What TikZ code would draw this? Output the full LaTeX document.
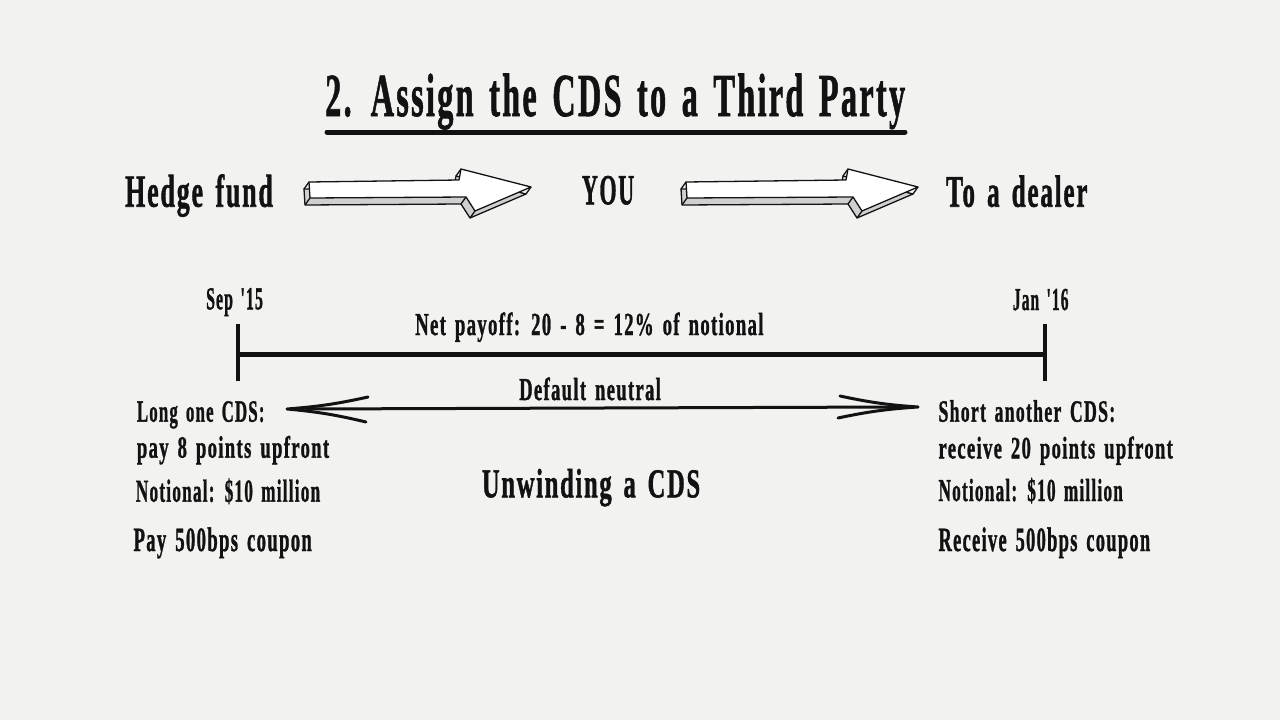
\documentclass[tikz,border=0pt]{standalone}
\usepackage{fontspec}
\setmainfont{Liberation Serif}
\newfontfamily\cdsfont{Liberation Serif}[LetterSpace=7,WordSpace=1.5,BoldFeatures={FakeBold=1.4}]
\usepackage{graphicx}
\definecolor{paper}{RGB}{242,242,240}
\definecolor{ink}{RGB}{18,18,18}
\definecolor{side}{RGB}{208,208,208}
\newcommand\fitt[3]{\resizebox{#1pt}{\height}{\fontsize{#2}{#2}\cdsfont\bfseries #3}}
\tikzset{
  lbl/.style={inner sep=0pt, anchor=base west, text=ink},
  edge3d/.style={draw=ink, line width=1.3pt, line join=round},
  blockarrow/.pic={
    \path[edge3d, fill=side, shift={(-5,7)}] (0,0) -- (#1,-2) -- (#1+2,-13) -- (#1+72,5) -- (#1+16,29) -- (#1+7,15) -- (1,16) -- cycle;
    \draw[edge3d] (0,0) -- (-5,7) (1,16) -- (-4,23) (#1+7,15) -- (#1+2,22)
      (#1+16,29) -- (#1+11,36) (#1+72,5) -- (#1+67,12) (#1+2,-13) -- (#1-3,-6);
    \path[edge3d, fill=white] (0,0) -- (#1,-2) -- (#1+2,-13) -- (#1+72,5) -- (#1+16,29) -- (#1+7,15) -- (1,16) -- cycle;
  },
  timeline/.style={draw=ink, line width=5pt, line cap=round},
  tick/.style={draw=ink, line width=3.5pt},
  sketch/.style={draw=ink, line width=3pt, line cap=round, line join=round}
}
\begin{document}
\begin{tikzpicture}[x=1pt,y=-1pt]
\fill[paper] (0,0) rectangle (1280,720);
\useasboundingbox (0,0) rectangle (1280,720);

% title
\node[lbl] (title) at (325,116) {\fitt{580}{61}{2. Assign the CDS to a Third Party}};
\coordinate (ulL) at (327,132);
\coordinate (ulR) at (905,132);
\draw[timeline] (ulL) -- (ulR);

% top row
\node[lbl] (hedge) at (125,206.7) {\fitt{147.7}{46}{Hedge fund}};
\node[lbl] (you) at (581.7,204.3) {\fitt{52.3}{43}{YOU}};
\node[lbl] (dealer) at (946,206.7) {\fitt{141.3}{45}{To a dealer}};
\pic (arrowA) at (309,182) {blockarrow=150};
\pic (arrowB) at (686,182) {blockarrow=160};

% timeline
\node[lbl] (sep) at (206,309.3) {\fitt{56.7}{32}{Sep '15}};
\node[lbl] (jan) at (1012.7,310) {\fitt{55.6}{32}{Jan '16}};
\node[lbl] (net) at (415,335) {\fitt{348.3}{32}{Net payoff: 20 - 8 = 12\% of notional}};
\coordinate (tkLt) at (238,324);
\coordinate (tkLb) at (238,381);
\coordinate (tkRt) at (1045,324);
\coordinate (tkRb) at (1045,381);
\coordinate (tlL) at (240,354);
\coordinate (tlR) at (1043,354);
\draw[tick] (tkLt) -- (tkLb);
\draw[tick] (tkRt) -- (tkRb);
\draw[timeline] (tlL) -- (tlR);

% default neutral double arrow
\node[lbl] (default) at (519,400) {\fitt{141.7}{32}{Default neutral}};
\coordinate (dL) at (287,409);
\coordinate (dLu) at (368,397);
\coordinate (dLd) at (366,422);
\coordinate (sL) at (306,409);
\coordinate (dR) at (918,407);
\coordinate (dRu) at (840,396);
\coordinate (dRd) at (838,418);
\coordinate (sR) at (900,407);
\draw[sketch] (sL) -- (sR);
\draw[sketch] (dLu) to[bend left=4] (dL) to[bend left=4] (dLd);
\draw[sketch] (dRu) to[bend right=4] (dR) to[bend right=4] (dRd);

% left column
\node[lbl] (long) at (136.7,421.7) {\fitt{127.6}{31}{Long one CDS:}};
\node[lbl] (pay8) at (136.7,457.7) {\fitt{192.3}{31}{pay 8 points upfront}};
\node[lbl] (notl) at (135.7,501.7) {\fitt{184.3}{32}{Notional: \$10 million}};
\node[lbl] (pay500) at (133.3,551) {\fitt{178.4}{34}{Pay 500bps coupon}};

% right column
\node[lbl] (short) at (938.3,421.7) {\fitt{176.7}{31}{Short another CDS:}};
\node[lbl] (recv20) at (938.3,458.3) {\fitt{234.4}{31}{receive 20 points upfront}};
\node[lbl] (notr) at (938.3,501) {\fitt{184.4}{32}{Notional: \$10 million}};
\node[lbl] (recv500) at (938.3,551) {\fitt{211.7}{34}{Receive 500bps coupon}};

% centre
\node[lbl] (unwind) at (481.7,497.3) {\fitt{218.3}{41}{Unwinding a CDS}};
\end{tikzpicture}
\end{document}
